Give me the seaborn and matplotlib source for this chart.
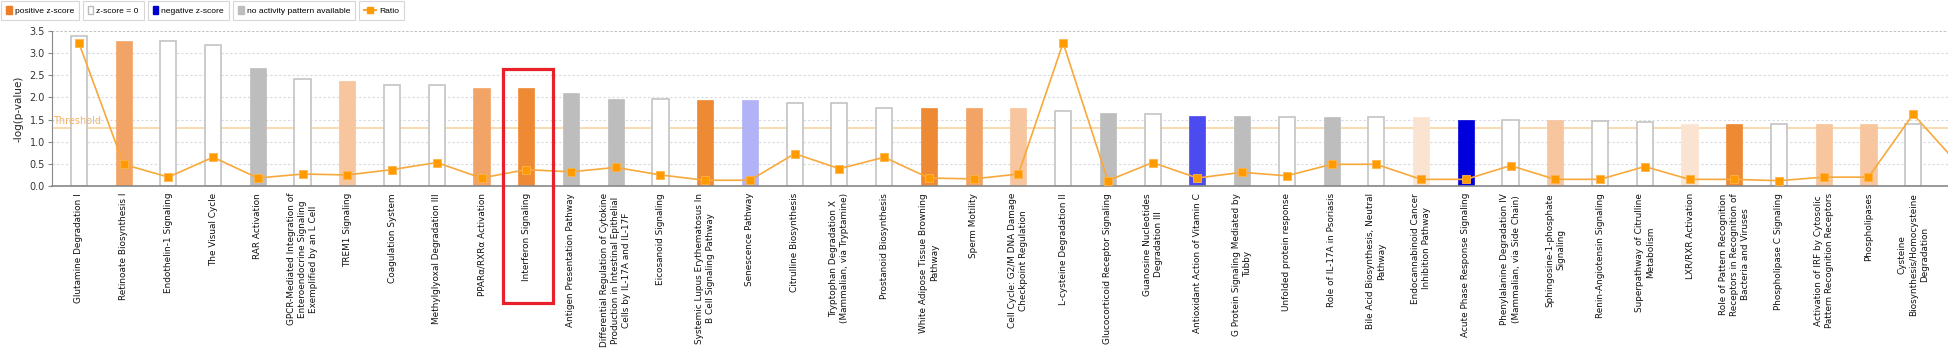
import numpy as np
import matplotlib
matplotlib.use("Agg")
import matplotlib.pyplot as plt
import matplotlib.transforms as mtransforms
from matplotlib.patches import Patch, Rectangle
from matplotlib.lines import Line2D
import seaborn as sns

# datos
vias = [
    "Glutamine Degradation I",
    "Retinoate Biosynthesis I",
    "Endothelin-1 Signaling",
    "The Visual Cycle",
    "RAR Activation",
    "GPCR-Mediated Integration of\nEnteroendocrine Signaling\nExemplified by an L Cell",
    "TREM1 Signaling",
    "Coagulation System",
    "Methylglyoxal Degradation III",
    "PPARα/RXRα Activation",
    "Interferon Signaling",
    "Antigen Presentation Pathway",
    "Differential Regulation of Cytokine\nProduction in Intestinal Epithelial\nCells by IL-17A and IL-17F",
    "Eicosanoid Signaling",
    "Systemic Lupus Erythematosus In\nB Cell Signaling Pathway",
    "Senescence Pathway",
    "Citrulline Biosynthesis",
    "Tryptophan Degradation X\n(Mammalian, via Tryptamine)",
    "Prostanoid Biosynthesis",
    "White Adipose Tissue Browning\nPathway",
    "Sperm Motility",
    "Cell Cycle: G2/M DNA Damage\nCheckpoint Regulation",
    "L-cysteine Degradation II",
    "Glucocorticoid Receptor Signaling",
    "Guanosine Nucleotides\nDegradation III",
    "Antioxidant Action of Vitamin C",
    "G Protein Signaling Mediated by\nTubby",
    "Unfolded protein response",
    "Role of IL-17A in Psoriasis",
    "Bile Acid Biosynthesis, Neutral\nPathway",
    "Endocannabinoid Cancer\nInhibition Pathway",
    "Acute Phase Response Signaling",
    "Phenylalanine Degradation IV\n(Mammalian, via Side Chain)",
    "Sphingosine-1-phosphate\nSignaling",
    "Renin-Angiotensin Signaling",
    "Superpathway of Citrulline\nMetabolism",
    "LXR/RXR Activation",
    "Role of Pattern Recognition\nReceptors in Recognition of\nBacteria and Viruses",
    "Phospholipase C Signaling",
    "Activation of IRF by Cytosolic\nPattern Recognition Receptors",
    "Phospholipases",
    "Cysteine\nBiosynthesis/Homocysteine\nDegradation",
]

log_p = [3.38, 3.28, 3.28, 3.19, 2.66, 2.41, 2.36, 2.27, 2.27, 2.22,
         2.21, 2.10, 1.97, 1.97, 1.94, 1.94, 1.87, 1.87, 1.77, 1.75,
         1.76, 1.75, 1.69, 1.65, 1.62, 1.59, 1.59, 1.55, 1.55, 1.55,
         1.55, 1.50, 1.49, 1.49, 1.47, 1.44, 1.41, 1.41, 1.39, 1.39,
         1.39, 1.39]

# ultimo punto queda cortado por el borde derecho
ratio = [3.23, 0.49, 0.20, 0.65, 0.18, 0.27, 0.25, 0.37, 0.53, 0.18,
         0.37, 0.32, 0.42, 0.25, 0.13, 0.13, 0.73, 0.39, 0.65, 0.18,
         0.16, 0.27, 3.23, 0.12, 0.53, 0.18, 0.31, 0.23, 0.49, 0.49,
         0.15, 0.15, 0.46, 0.15, 0.15, 0.44, 0.15, 0.15, 0.12, 0.20,
         0.20, 1.62, 0.50]

estado = ["cero", "pos2", "cero", "cero", "na", "cero", "pos1", "cero", "cero", "pos2",
          "pos3", "na", "na", "cero", "pos3", "neg0", "cero", "cero", "cero", "pos3",
          "pos2", "pos1", "cero", "na", "cero", "neg2", "na", "cero", "na", "cero",
          "pos0", "neg3", "cero", "pos1", "cero", "cero", "pos0", "pos3", "cero", "pos1",
          "pos1", "cero"]

umbral = 1.31

colores = {
    "pos3": "#ee8a33",
    "pos2": "#f2a466",
    "pos1": "#f7c59e",
    "pos0": "#fbe3d1",
    "cero": "#ffffff",
    "na": "#bdbdbd",
    "neg3": "#0000dd",
    "neg2": "#4b4bef",
    "neg0": "#b2b2f7",
}

fig = plt.figure(figsize=(19.49, 3.54), dpi=100)
ax = fig.add_axes([52 / 1949, 168 / 354, 1 - 52 / 1949, 155 / 354])

sns.barplot(x=list(range(len(vias))), y=log_p, hue=list(range(len(vias))),
            palette=[colores[e] for e in estado], legend=False, width=0.36,
            saturation=1, ax=ax, zorder=2)
for p, e in zip(ax.patches, estado):
    if e == "cero":
        p.set_edgecolor("#c4c4c4")
        p.set_linewidth(1.2)
    else:
        p.set_edgecolor(colores[e])
        p.set_linewidth(0.5)

# umbral
ax.axhline(umbral, color="#f8d8a8", lw=1.3, zorder=1)
ax.text(-0.58, umbral + 0.04, "Threshold", color="#f2b469", fontsize=7,
        ha="left", va="bottom")

# linea de ratio
ax.plot(range(len(ratio)), ratio, color="#f7a93c", lw=1.2, marker="s",
        markersize=5.5, markerfacecolor="#ff9a00", markeredgecolor="#ffb347",
        markeredgewidth=0.6, zorder=4, clip_on=True)

ax.set_xlim(-0.6, 41.8)
ax.set_ylim(0, 3.5)
ax.set_yticks(np.arange(0, 3.51, 0.5))
ax.set_yticklabels([f"{v:.1f}" for v in np.arange(0, 3.51, 0.5)], fontsize=7,
                   color="#333333")
for v in np.arange(0.5, 3.1, 0.5):
    ax.axhline(v, color="#d8d8e0", lw=0.8, ls=(0, (2, 2)), zorder=0)
ax.axhline(3.5, color="#b8b8b8", lw=1.2, ls=(0, (1.5, 1)), zorder=0)
ax.set_ylabel("-log(p-value)", fontsize=7.5, color="#222222", labelpad=4)

ax.set_xticks(range(len(vias)))
ax.set_xticklabels(vias, rotation=90, fontsize=6.4, va="top", ha="center",
                   multialignment="center", linespacing=1.3, color="#111111")
ax.tick_params(axis="x", length=0, pad=5)
ax.tick_params(axis="y", length=3, color="#888888", pad=2)
for s in ["top", "right"]:
    ax.spines[s].set_visible(False)
ax.spines["left"].set_color("#888888")
ax.spines["bottom"].set_color("#888888")
ax.spines["bottom"].set_linewidth(1.2)
ax.set_xlabel("")

# recuadro rojo sobre Interferon Signaling
trans = mtransforms.blended_transform_factory(ax.transData, fig.transFigure)
i_ifn = 10
rect = Rectangle((i_ifn - 0.52, 51 / 354), 1.12, 234 / 354, transform=trans,
                 fill=False, edgecolor="#e8202a", lw=2.3, clip_on=False, zorder=10)
fig.add_artist(rect)

# leyenda en cajas separadas, una detras de otra
items = [
    (Patch(facecolor="#ee7d26", edgecolor="#ee7d26"), "positive z-score", 0.65),
    (Patch(facecolor="white", edgecolor="#bbbbbb"), "z-score = 0", 0.65),
    (Patch(facecolor="#0000cc", edgecolor="#0000cc"), "negative z-score", 0.65),
    (Patch(facecolor="#bdbdbd", edgecolor="#bdbdbd"), "no activity pattern available", 0.65),
    (Line2D([], [], color="#f7a93c", marker="s", markerfacecolor="#ff9a00",
            markeredgecolor="#ff9a00", markersize=4), "Ratio", 1.4),
]
renderer = fig.canvas.get_renderer()
x0 = 1
for h, lab, hl in items:
    leg = fig.legend(handles=[h], labels=[lab], loc="upper left",
                     bbox_to_anchor=(x0 / 1949, 1 - 1 / 354),
                     prop={"family": "Liberation Sans", "size": 6.1},
                     frameon=True, fancybox=False, edgecolor="#cccccc",
                     handlelength=hl, handleheight=1.1, handletextpad=0.35,
                     borderpad=0.6, borderaxespad=0.0)
    leg.get_frame().set_linewidth(0.8)
    bb = leg.get_window_extent(renderer)
    x0 = bb.x1 + 4

fig.savefig("out.png", dpi=100)
